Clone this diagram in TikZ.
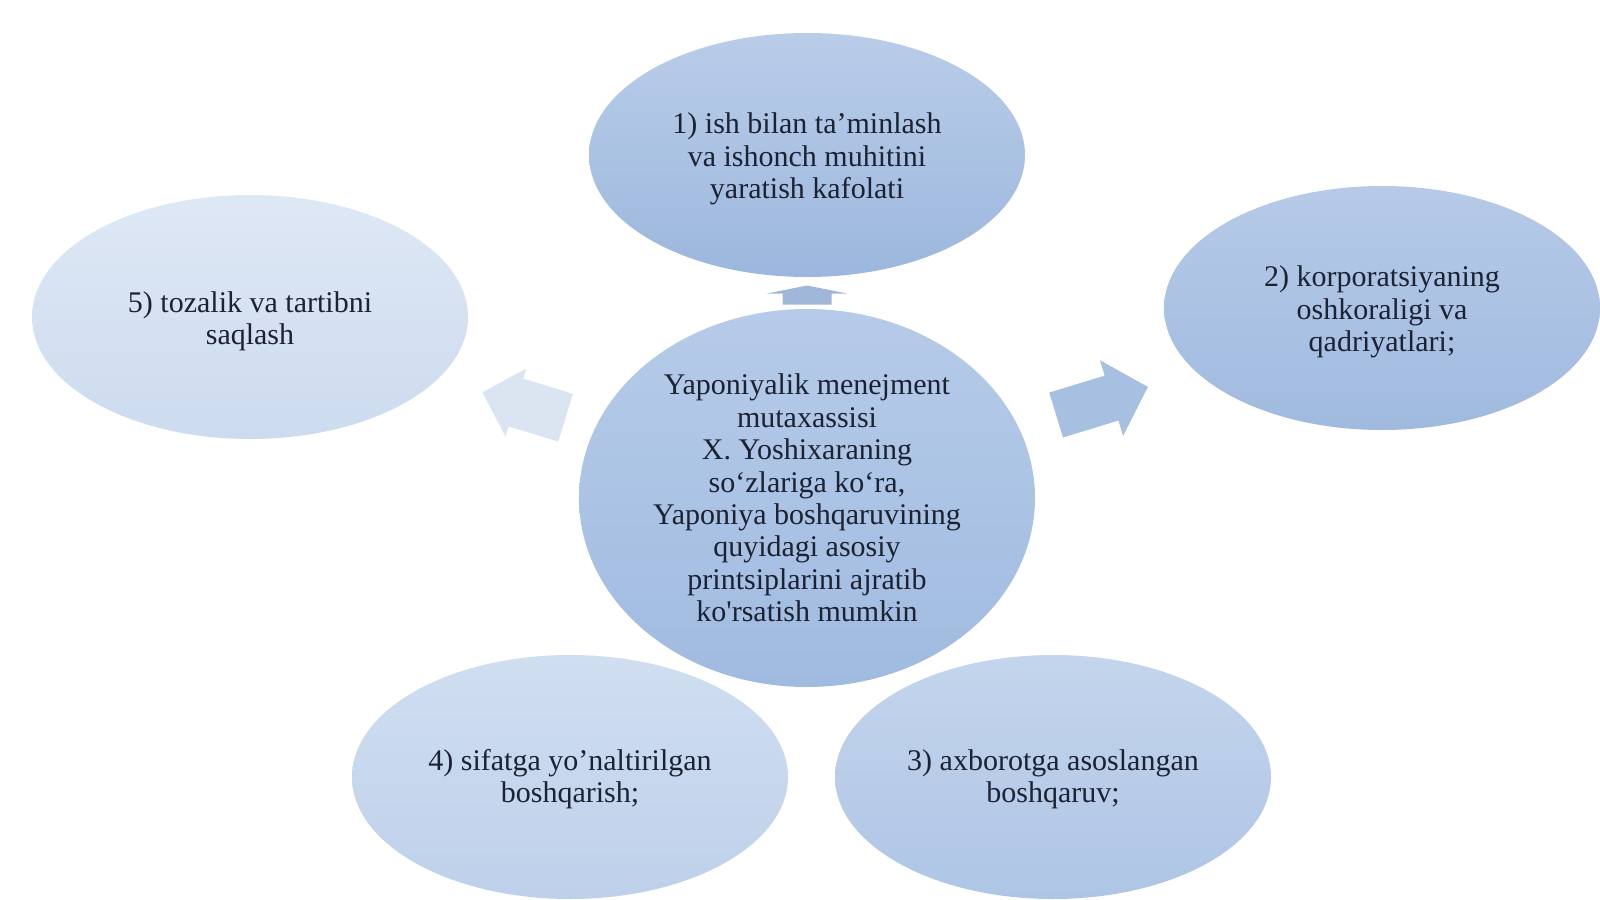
\documentclass[tikz,border=0pt]{standalone}
\usepackage{fontspec}
\setmainfont{Liberation Serif}
\usetikzlibrary{shapes.geometric}
\definecolor{txt}{HTML}{1B2233}
\definecolor{arA}{RGB}{160,183,218}
\definecolor{arB}{RGB}{167,191,225}
\definecolor{arC}{RGB}{219,229,242}
\newcommand\blkarrow[7]{% center, angle, length, shaft w, head w, head len, colour
  \begin{scope}[shift={#1},rotate=#2]
    \fill[#7] (-#3/2,-#4/2) -- (#3/2-#6,-#4/2) -- (#3/2-#6,-#5/2) -- (#3/2,0)
      -- (#3/2-#6,#5/2) -- (#3/2-#6,#4/2) -- (-#3/2,#4/2) -- cycle;
  \end{scope}}
\newcommand\tstrut[1]{\rule{0pt}{#1}}
\begin{document}
\begin{tikzpicture}[x=0.5pt,y=-0.5pt,
  bub/.style={ellipse,inner sep=0pt,text=txt,align=center,
    font=\fontsize{15}{16.2}\selectfont}]
\useasboundingbox (0,0) rectangle (1600,899);
% block arrows (behind the bubbles)
\blkarrow{(655,648)}{-130}{60}{44}{72}{28}{white}
\blkarrow{(955,648)}{-50}{60}{44}{72}{28}{white}
\blkarrow{(807,295)}{90}{19}{49}{80}{8}{arA}
\blkarrow{(1102,401)}{17}{96}{47}{79}{38}{arB}
\blkarrow{(524,405)}{163}{87}{50}{71}{35}{arC}
% bubbles
\node[bub,minimum width=218pt,minimum height=122pt,top color={rgb,255:red,185;green,205;blue,233},bottom color={rgb,255:red,156;green,183;blue,221}] (n1) at (807,155)
  {\tstrut{14.5pt}1) ish bilan ta’minlash\\va ishonch muhitini\\yaratish kafolati};
\node[bub,minimum width=218pt,minimum height=122pt,top color={rgb,255:red,182;green,202;blue,232},bottom color={rgb,255:red,160;green,186;blue,223}] (n2) at (1382,308)
  {\tstrut{14.5pt}2) korporatsiyaning\\oshkoraligi va\\qadriyatlari;};
\node[bub,minimum width=218pt,minimum height=122pt,top color={rgb,255:red,196;green,213;blue,237},bottom color={rgb,255:red,174;green,197;blue,229}] (n3) at (1053,777)
  {\tstrut{12.5pt}3) axborotga asoslangan\\boshqaruv;};
\node[bub,minimum width=218pt,minimum height=122pt,top color={rgb,255:red,208;green,222;blue,241},bottom color={rgb,255:red,190;green,208;blue,234}] (n4) at (570,777)
  {\tstrut{12.5pt}4) sifatga yo’naltirilgan\\boshqarish;};
\node[bub,minimum width=218pt,minimum height=122pt,top color={rgb,255:red,222;green,232;blue,245},bottom color={rgb,255:red,205;green,219;blue,239}] (n5) at (250,317)
  {\tstrut{14.5pt}5) tozalik va tartibni\\saqlash};
\node[bub,minimum width=228pt,minimum height=189pt,top color={rgb,255:red,182;green,203;blue,233},bottom color={rgb,255:red,160;green,187;blue,224}] (c) at (807,498)
  {Yaponiyalik menejment\\mutaxassisi\\X. Yoshixaraning\\so‘zlariga ko‘ra,\\Yaponiya boshqaruvining\\quyidagi asosiy\\printsiplarini ajratib\\ko\textquotesingle rsatish mumkin};
\end{tikzpicture}
\end{document}
